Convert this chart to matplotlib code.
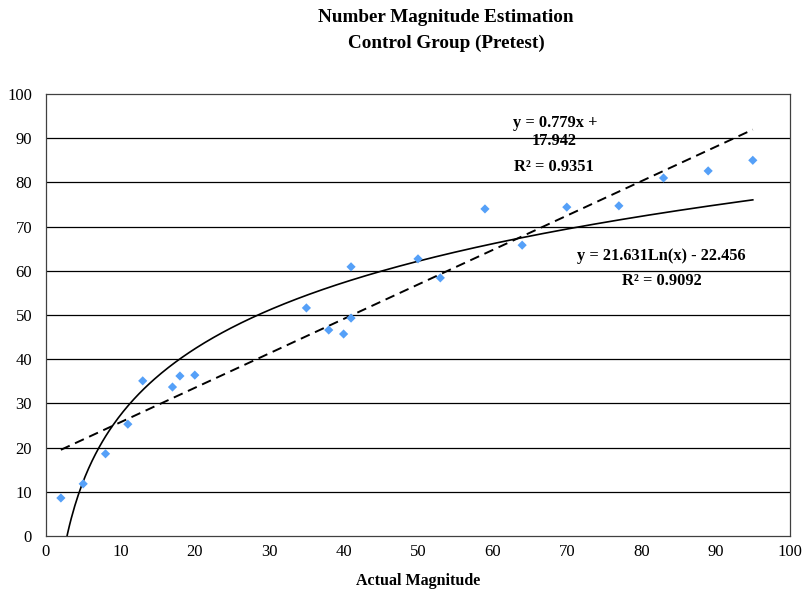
import numpy as np
import matplotlib
matplotlib.use("Agg")
import matplotlib.pyplot as plt

# data
actual = [2, 5, 8, 11, 13, 17, 18, 20, 35, 38, 40, 41, 41, 50, 53, 59, 64, 70, 77, 83, 89, 95]
estimated = [8.6, 11.8, 18.6, 25.3, 35.1, 33.7, 36.2, 36.4, 51.6, 46.6, 45.7, 60.9, 49.3,
             62.7, 58.4, 74.0, 65.8, 74.4, 74.7, 81.0, 82.6, 85.0]

lin_slope, lin_icpt = 0.779, 17.942
log_coef, log_icpt = 21.631, -22.456

x_ticks = list(range(0, 101, 10))
y_ticks = list(range(0, 101, 10))

plt.rcParams['font.family'] = ['Liberation Serif', 'DejaVu Serif']

fig = plt.figure(figsize=(8.02, 5.95), dpi=100)
ax = fig.add_axes([46 / 802, 1 - 536 / 595, (790 - 46) / 802, (536 - 94) / 595])

# horizontal gridlines
for yv in y_ticks[1:-1]:
    ax.axhline(yv, color='black', linewidth=0.9, zorder=1)

ax.scatter(actual, estimated, marker='D', s=22, color='#55A0F8', edgecolors='none', zorder=3)

xs = np.linspace(min(actual), max(actual), 400)
ax.plot(xs, lin_slope * xs + lin_icpt, color='black', linestyle=(0, (5, 3)), linewidth=1.4, zorder=2)
ax.plot(xs, log_coef * np.log(xs) + log_icpt, color='black', linewidth=1.2, zorder=2)

ax.set_xlim(0, 100)
ax.set_ylim(0, 100)
ax.set_xticks(x_ticks)
ax.set_yticks(y_ticks)
ax.tick_params(length=0, labelsize=12, pad=6)
ax.tick_params(axis='y', pad=10)
for sp in ax.spines.values():
    sp.set_linewidth(0.9)
    sp.set_color('#404040')

ax.set_xlabel('Actual Magnitude', fontsize=11.5, fontweight='bold', labelpad=9)
fig.text(446 / 802, 1 - 18 / 595, 'Number Magnitude Estimation', ha='center', va='center',
         fontsize=13.8, fontweight='bold')
fig.text(446 / 802, 1 - 43 / 595, 'Control Group (Pretest)', ha='center', va='center',
         fontsize=13.8, fontweight='bold')

fs = 11.8
fig.text(555 / 802, 1 - 123 / 595, 'y = 0.779x +', ha='center', va='center', fontsize=fs, fontweight='bold')
fig.text(554 / 802, 1 - 141 / 595, '17.942', ha='center', va='center', fontsize=fs, fontweight='bold')
fig.text(554 / 802, 1 - 167 / 595, 'R² = 0.9351', ha='center', va='center', fontsize=fs, fontweight='bold')
fig.text(661 / 802, 1 - 256 / 595, 'y = 21.631Ln(x) - 22.456', ha='center', va='center', fontsize=fs, fontweight='bold')
fig.text(662 / 802, 1 - 281 / 595, 'R² = 0.9092', ha='center', va='center', fontsize=fs, fontweight='bold')

fig.savefig('out.png', dpi=100)
